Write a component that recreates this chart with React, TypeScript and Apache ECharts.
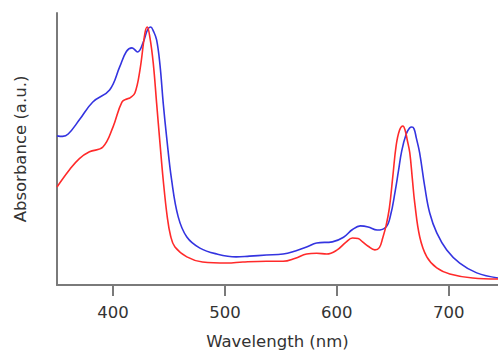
import React, { useEffect, useRef } from "react";
import * as echarts from "echarts";

const blueWavelength = [350, 355, 360, 370, 382, 397, 406, 412, 417, 422, 427, 431, 433.7, 436, 439, 442, 444.9, 447.9, 452.4, 458.3, 466, 477.7, 492.9, 510, 522, 537, 552, 563, 573, 582, 596, 606, 614, 621, 628, 636, 644, 648, 652, 655, 658, 662, 665, 667, 669, 671, 674, 678.6, 683, 689.3, 698.2, 709.8, 725, 744];
const blueAbsorbance = [0.578, 0.576, 0.585, 0.64, 0.709, 0.756, 0.845, 0.905, 0.919, 0.903, 0.94, 0.99, 1.0, 0.985, 0.95, 0.853, 0.705, 0.575, 0.407, 0.264, 0.186, 0.143, 0.12, 0.109, 0.112, 0.116, 0.12, 0.132, 0.147, 0.163, 0.167, 0.185, 0.215, 0.229, 0.225, 0.213, 0.225, 0.27, 0.36, 0.44, 0.52, 0.585, 0.608, 0.612, 0.605, 0.57, 0.512, 0.38, 0.279, 0.202, 0.136, 0.085, 0.047, 0.027];

const redWavelength = [350, 361, 370, 379, 391, 400, 408, 413, 415.2, 419.6, 424.1, 428.6, 430.6, 433, 436, 439, 442, 444.9, 448.5, 451.5, 455.4, 466, 480, 502, 516, 537, 552, 563, 573, 582, 591, 600, 608, 614, 619, 623, 628, 634, 638, 641, 644, 647, 650, 653, 656, 659, 661, 663, 665.2, 667.5, 669.6, 674.1, 680.4, 689.3, 700.9, 721.4, 744];
const redAbsorbance = [0.38, 0.446, 0.49, 0.516, 0.535, 0.612, 0.709, 0.722, 0.725, 0.744, 0.833, 0.977, 1.0, 0.96, 0.86, 0.705, 0.55, 0.407, 0.264, 0.19, 0.147, 0.109, 0.089, 0.085, 0.089, 0.092, 0.092, 0.104, 0.12, 0.123, 0.12, 0.135, 0.165, 0.182, 0.18, 0.167, 0.15, 0.136, 0.145, 0.182, 0.23, 0.3, 0.42, 0.54, 0.6, 0.616, 0.6, 0.56, 0.512, 0.41, 0.318, 0.186, 0.109, 0.066, 0.043, 0.027, 0.023];

const xTicks = [400, 500, 600, 700];
const xName = "Wavelength (nm)";
const yName = "Absorbance (a.u.)";

function pairs(xs: number[], ys: number[]) {
  return xs.map((x, i) => [x, ys[i]]);
}

export default function App() {
  const ref = useRef<HTMLDivElement>(null);
  useEffect(() => {
    if (!ref.current) return;
    const chart = echarts.init(ref.current, null, { renderer: "svg" });
    const axisColor = "#7a7a7a";
    const textStyle = { color: "#333", fontSize: 16.5, fontFamily: "DejaVu Sans, sans-serif" };
    chart.setOption({
      animation: false,
      grid: { left: 57, right: 0, top: 13, bottom: 66, outerBoundsMode: "none", containLabel: false },
      xAxis: {
        type: "value",
        min: 350,
        max: 744,
        name: xName,
        nameLocation: "middle",
        nameGap: 48,
        nameTextStyle: textStyle,
        axisLine: { show: true, onZero: false, lineStyle: { color: axisColor, width: 2 } },
        axisTick: { show: true, customValues: xTicks, length: 11, lineStyle: { color: axisColor, width: 2 } },
        axisLabel: { customValues: xTicks, margin: 19, ...textStyle },
        splitLine: { show: false },
      },
      yAxis: {
        type: "value",
        min: 0,
        max: 1.054,
        name: yName,
        nameLocation: "middle",
        nameGap: 28,
        nameTextStyle: textStyle,
        axisLine: { show: true, lineStyle: { color: axisColor, width: 2 } },
        axisTick: { show: false },
        axisLabel: { show: false },
        splitLine: { show: false },
      },
      series: [
        {
          type: "line",
          data: pairs(blueWavelength, blueAbsorbance),
          smooth: 0.4,
          showSymbol: false,
          lineStyle: { color: "#3434e0", width: 1.6 },
          z: 2,
        },
        {
          type: "line",
          data: pairs(redWavelength, redAbsorbance),
          smooth: 0.4,
          showSymbol: false,
          lineStyle: { color: "#ff2a2a", width: 1.6 },
          z: 3,
        },
      ],
    });
    return () => chart.dispose();
  }, []);
  return (
    <div
      ref={ref}
      style={{ position: "fixed", left: 0, top: 0, width: 498, height: 351, background: "#fff" }}
    />
  );
}
